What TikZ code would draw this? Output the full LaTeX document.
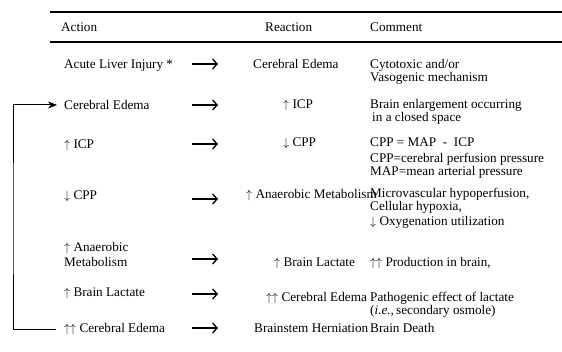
\documentclass[tikz,border=0pt]{standalone}
\usepackage{fontspec}
\setmainfont{Liberation Serif}
\usetikzlibrary{arrows.meta}
\tikzset{
  txt/.style={anchor=base west, inner sep=0pt, font=\fontsize{13.2}{13}\selectfont, align=left},
  rule/.style={draw=black, line width=1.3pt},
  rowarrow/.style={draw=black, line width=1.3pt, -{Straight Barb[length=4.5pt,width=10pt,line width=1.3pt]}},
  feedback/.style={draw=black, line width=1pt, -{Stealth[length=9pt,width=7pt]}},
}

\begin{document}
\begin{tikzpicture}[x=1pt,y=-1pt]
  \useasboundingbox (0,0) rectangle (562,352);
  % table rules
  \coordinate (TL) at (50,12);
  \coordinate (TR) at (562,12);
  \coordinate (ML) at (50,42);
  \coordinate (MR) at (562,42);
  \draw[rule] (TL) -- (TR);
  \draw[rule, line width=1.6pt] (ML) -- (MR);
  % header
  \node[txt] (hact) at (61,31.5) {Action};
  \node[txt] (hrea) at (265,31.5) {Reaction};
  \node[txt] (hcom) at (370,31.5) {Comment};
  % column: action (multi-line nodes sit on their last baseline)
  \node[txt] (act1) at (64,68.5) {Acute Liver Injury *};
  \node[txt] (act2) at (64,109.5) {Cerebral Edema};
  \node[txt] (act3) at (64,148.5) {\(\uparrow\) ICP};
  \node[txt] (act4) at (64,200) {\(\downarrow\) CPP};
  \node[txt] (act5) at (64,266.5) {\(\uparrow\) Anaerobic\\[2pt]Metabolism};
  \node[txt] (act6) at (64,297) {\(\uparrow\) Brain Lactate};
  \node[txt] (act7) at (64,332.5) {\(\uparrow\uparrow\) Cerebral Edema};
  % column: reaction
  \node[txt] (rea1) at (253,68.5) {Cerebral Edema};
  \node[txt] (rea2) at (283,108.5) {\(\uparrow\) ICP};
  \node[txt] (rea3) at (283,146.5) {\(\downarrow\) CPP};
  \node[txt] (rea4) at (246,198.5) {\(\uparrow\) Anaerobic Metabolism};
  \node[txt] (rea5) at (274,266.5) {\(\uparrow\) Brain Lactate};
  \node[txt] (rea6) at (266,302) {\(\uparrow\uparrow\) Cerebral Edema};
  \node[txt] (rea7) at (254,332.5) {Brainstem Herniation};
  % column: comment
  \node[txt] (com1) at (370,81.5) {Cytotoxic and/or\\Vasogenic mechanism};
  \node[txt] (com2) at (370,121.5) {Brain enlargement occurring\\\hspace*{2pt}in a closed space};
  \node[txt] (com3) at (370,175.5) {CPP = MAP \ - \ ICP\\[3pt]CPP=cerebral perfusion pressure\\MAP=mean arterial pressure};
  \node[txt] (com4) at (370,225.5) {Microvascular hypoperfusion,\\Cellular hypoxia,\\[2pt]\(\downarrow\) Oxygenation utilization};
  \node[txt] (com5) at (370,266.5) {\(\uparrow\uparrow\) Production in brain,};
  \node[txt] (com6) at (370,314.5) {Pathogenic effect of lactate\\(\textit{i.e.,}\,secondary osmole)};
  \node[txt] (com7) at (370,332.5) {Brain Death};
  % row arrows
  \foreach \i/\y in {1/64,2/105,3/144,4/199,5/259,6/294,7/328}{
    \coordinate (ra\i) at (192,\y);
    \coordinate (rb\i) at (218,\y);
    \draw[rowarrow] (ra\i) -- (rb\i);
  }
  % feedback loop
  \coordinate (fbx) at (13,220);
  \draw[feedback] ([xshift=-8pt]act7.west) -| (fbx) |- ([xshift=-7pt]act2.west);
\end{tikzpicture}
\end{document}
